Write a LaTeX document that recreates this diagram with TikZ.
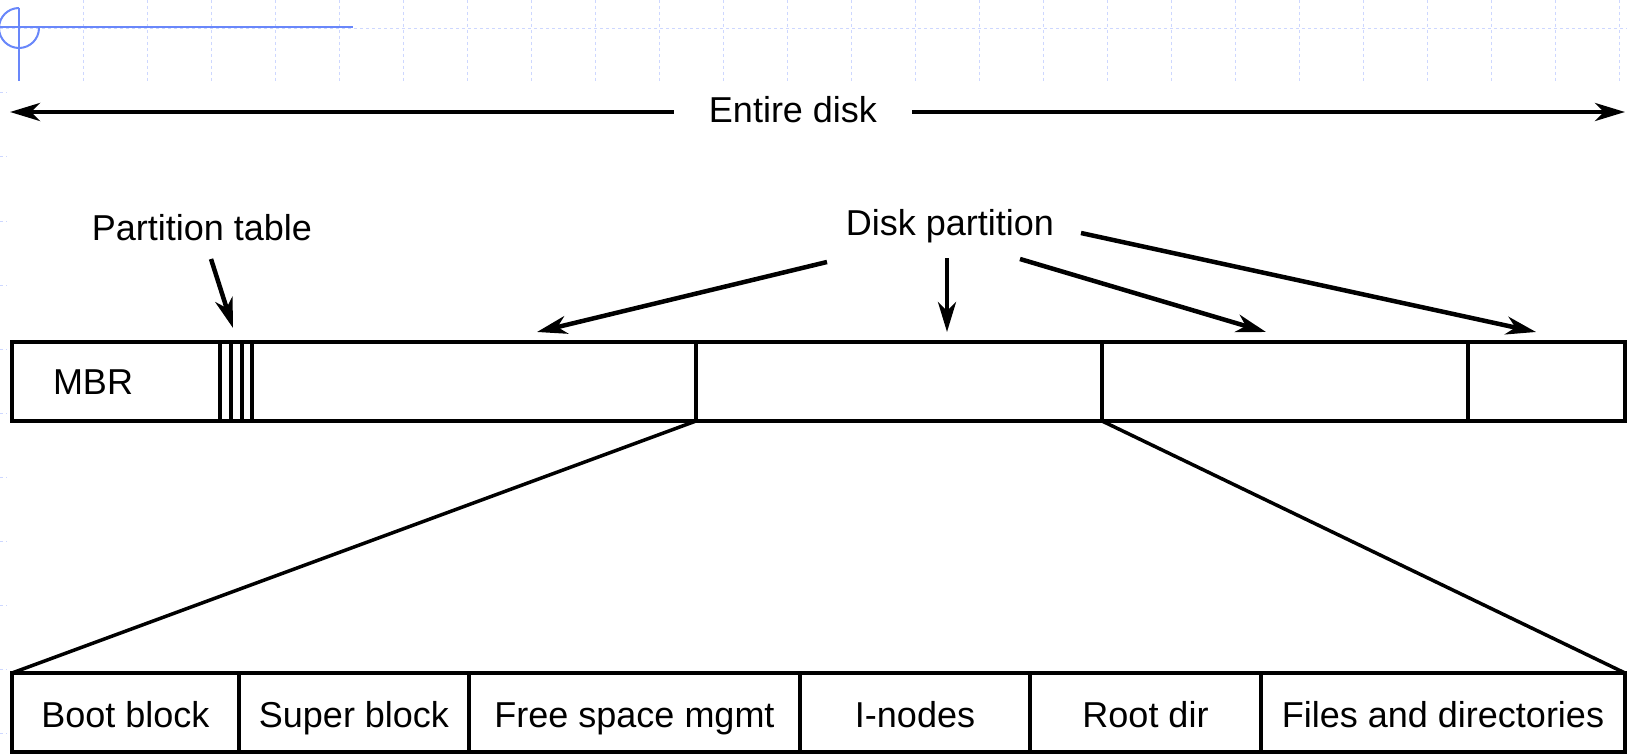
\documentclass[tikz,border=0pt]{standalone}
\usepackage{fontspec}
\setmainfont{Liberation Sans}
\usetikzlibrary{arrows.meta}
\definecolor{gridblue}{RGB}{205,215,255}
\definecolor{markblue}{RGB}{105,135,250}

\begin{document}
\begin{tikzpicture}[x=1pt,y=-1pt]
\tikzset{every node/.style={font=\fontsize{36}{42}\selectfont}}
\tikzset{cell/.style = {shape=rectangle,draw,line width=3.5pt,minimum height=79pt,
	text height=31pt,text depth=2pt,inner sep=0pt,outer sep=0pt,anchor=north west}}
\tikzset{edge/.style = {-{Stealth[length=30pt,width=18pt,inset=9pt]},line width=4.5pt}}
\tikzset{link/.style = {line width=3.5pt}}
\tikzset{gridline/.style = {gridblue,dashed,line width=1pt}}
\useasboundingbox (0,0) rectangle (1627,754);

% background grid
\foreach \x in {83,147,...,1619} \draw[gridline] (\x,0) -- (\x,81);
\draw[gridline] (0,29) -- (1627,29);
\foreach \y in {93,157,...,733} \draw[gridline] (0,\y) -- (7,\y);
\draw[markblue,line width=2pt] (0,27) -- (353,27);
\draw[markblue,line width=2pt] (19,8) -- (19,81);
\draw[markblue,line width=2pt] (19,8) arc[start angle=90,end angle=360,radius=20pt];

% labels
\node (disk) [inner xsep=35pt] at (793,110) {Entire disk};
\node (ptable) at (202,228) {Partition table};
\node (dpart) at (950,226) {Disk partition};
\node (mbrtext) at (93,382) {MBR};

% top bar
\node[cell,minimum width=208pt] (mbr) at (12,342) {};
\node[cell,minimum width=11pt] (pt1) at (220,342) {};
\node[cell,minimum width=11pt] (pt2) at (231,342) {};
\node[cell,minimum width=10pt] (pt3) at (242,342) {};
\node[cell,minimum width=444pt] (p1) at (252,342) {};
\node[cell,minimum width=406pt] (p2) at (696,342) {};
\node[cell,minimum width=366pt] (p3) at (1102,342) {};
\node[cell,minimum width=157pt] (p4) at (1468,342) {};

% bottom bar
\node[cell,minimum width=227pt] (boot) at (12,673) {Boot block};
\node[cell,minimum width=230pt] (super) at (239,673) {Super block};
\node[cell,minimum width=331pt] (free) at (469,673) {Free space mgmt};
\node[cell,minimum width=230pt] (inodes) at (800,673) {I-nodes};
\node[cell,minimum width=231pt] (root) at (1030,673) {Root dir};
\node[cell,minimum width=364pt] (files) at (1261,673) {Files and directories};

% end points
\coordinate (diskl) at (10,112);
\coordinate (diskr) at (1625,112);
\coordinate (ptfrom) at (211,259);
\coordinate (ptto) at (233,328);
\coordinate (dfrom1) at (827,262);
\coordinate (dto1) at (537,332);
\coordinate (dfrom2) at (947,258);
\coordinate (dto2) at (947,332);
\coordinate (dfrom3) at (1020,259);
\coordinate (dto3) at (1266,332);
\coordinate (dfrom4) at (1081,233);
\coordinate (dto4) at (1536,332);

%edges
\draw[edge] (disk.west |- diskl) -- (diskl);
\draw[edge] (disk.east |- diskr) -- (diskr);
\draw[edge] (ptfrom) -- (ptto);
\draw[edge] (dfrom1) -- (dto1);
\draw[edge] (dfrom2) -- (dto2);
\draw[edge] (dfrom3) -- (dto3);
\draw[edge] (dfrom4) -- (dto4);
\draw[link] (p1.south east) -- (boot.north west);
\draw[link] (p3.south west) -- (files.north east);
\end{tikzpicture}
\end{document}
